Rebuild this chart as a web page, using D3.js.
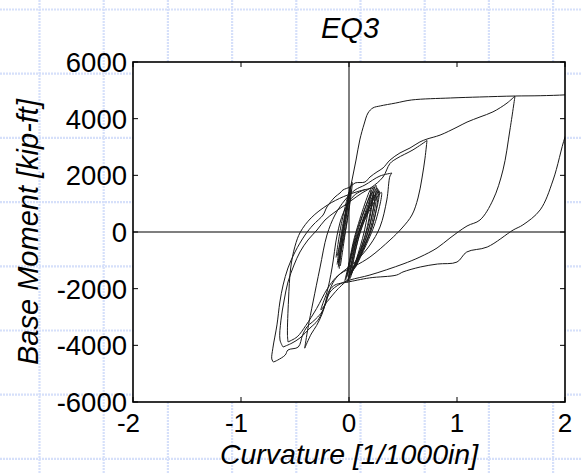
<!DOCTYPE html>
<html>
<head>
<meta charset="utf-8">
<script src="https://cdn.jsdelivr.net/npm/d3@7"></script>
<style>
body{margin:0;background:#fff;}
text{font-family:"Liberation Sans",Arial,sans-serif;fill:#000;}
</style>
</head>
<body>
<div id="svgContainer"></div>
<script>
var svgWidth = 581, svgHeight = 473;
var margin = {top:62,left:133,right:16,bottom:71};

// axis ticks
var xTicks = [-2,-1,0,1,2];
var yTicks = [-6000,-4000,-2000,0,2000,4000,6000];
var titleText = "EQ3";
var xLabel = "Curvature [1/1000in]";
var yLabel = "Base Moment [kip-ft]";

// [curvature, moment], branch by branch
// small elastic cycles right of the axis
var cycleA = [[-0.02,-1550],[0.05,-200],[0.20,1500],[0.14,0],[0.01,-1650]];
var cycleB = [[-0.03,-1700],[0.07,-100],[0.23,1600],[0.17,100],[0.02,-1500]];
var cycleC = [[0.0,-1600],[0.09,-50],[0.26,1560],[0.19,0],[0.03,-1400]];
var cycleD = [[-0.01,-1450],[0.10,100],[0.28,1450],[0.21,150],[0.04,-1350]];
var cycleE = [[0.02,-1500],[0.12,200],[0.30,1400],[0.24,300],[0.06,-1250]];
var cycleF = [[-0.04,-1750],[0.06,-300],[0.24,1300],[0.16,-200],[-0.02,-1800]];
var cycleG = [[-0.01,-1700],[0.08,-150],[0.25,1650],[0.18,50],[0.0,-1550]];
var cycleH = [[0.01,-1450],[0.11,50],[0.27,1500],[0.22,250],[0.05,-1300]];
var cycleI = [[-0.02,-1600],[0.07,0],[0.22,1420],[0.15,-100],[-0.01,-1700]];
// steep cycles left of the axis
var steepA = [[-0.11,-1150],[-0.06,200],[0.03,1750],[-0.02,300],[-0.10,-1100]];
var steepB = [[-0.09,-1300],[-0.05,0],[0.02,1500],[-0.03,100],[-0.08,-1200]];
var steepC = [[-0.12,-900],[-0.07,300],[0.0,1400],[-0.05,200],[-0.11,-850]];
var steepD = [[-0.10,-1250],[-0.055,100],[0.01,1600],[-0.035,250],[-0.095,-1150]];

// first large excursion past 2, back down to the -0.7 peak
var bigRun = [[-0.10,-1060],[-0.056,70],[-0.01,1130],[0.028,1835],[0.065,2540],[0.10,3250],[0.14,3810],
  [0.176,4200],[0.222,4380],[0.29,4450],[0.43,4550],[0.58,4660],[0.94,4730],[1.21,4765],[1.54,4800],
  [1.77,4810],[2.0,4840],[2.09,4870],[2.10,4600],[2.06,3900],[2.0,3350],[1.89,1835],[1.77,780],
  [1.61,250],[1.52,70],[1.28,-530],[1.09,-706],[1.0,-1060],[0.82,-1130],[0.66,-1235],[0.50,-1410],
  [0.44,-1520],[0.19,-1620],[-0.01,-1765],[-0.065,-1800],[-0.13,-1870],[-0.18,-2050],[-0.20,-2220],
  [-0.24,-2750],[-0.29,-3000],[-0.34,-3180],[-0.39,-3350],[-0.43,-3640],[-0.47,-4060],[-0.565,-4165],
  [-0.59,-4340],[-0.66,-4520],[-0.70,-4590]];
// reload from -0.7 up to the 1.54 peak
var reload1 = [[-0.70,-4590],[-0.715,-4480],[-0.705,-4100],[-0.667,-3280],[-0.64,-2470],[-0.61,-1870],
  [-0.565,-1270],[-0.50,-706],[-0.407,-106],[-0.333,247],[-0.24,600],[-0.204,883],[-0.13,1235],
  [-0.083,1377],[-0.056,1483],[0.009,1590],[0.056,1730],[0.148,1765],[0.194,1940],[0.259,2120],
  [0.315,2260],[0.38,2540],[0.472,2790],[0.565,2965],[0.657,3180],[0.722,3280],[0.843,3420],
  [1.0,3700],[1.093,3880],[1.213,4060],[1.333,4240],[1.463,4550],[1.537,4800]];
// unload from 1.54 to -0.61
var unload1 = [[1.537,4800],[1.49,3600],[1.426,2190],[1.333,1130],[1.213,424],[1.093,212],[0.935,-212],
  [0.815,-565],[0.657,-883],[0.5,-1130],[0.194,-1518],[0.009,-1694],[-0.083,-1835],[-0.176,-2120],
  [-0.222,-2580],[-0.287,-3110],[-0.361,-3390],[-0.454,-3740],[-0.528,-3920],[-0.611,-4060]];
// reload from -0.61 to the 0.72 peak
var reload2 = [[-0.611,-4060],[-0.639,-3810],[-0.63,-3110],[-0.60,-2400],[-0.565,-1765],[-0.509,-1165],
  [-0.454,-706],[-0.38,-282],[-0.296,71],[-0.222,424],[-0.13,706],[-0.037,953],[0.028,1130],
  [0.12,1377],[0.213,1588],[0.315,1940],[0.38,2420],[0.444,2600],[0.593,2900],[0.722,3230]];
// unload from 0.72 to -0.41
var unload2 = [[0.722,3230],[0.704,2610],[0.676,1906],[0.639,1200],[0.583,600],[0.491,141],[0.38,-282],
  [0.194,-883],[0.056,-1200],[-0.083,-1483],[-0.15,-1800],[-0.20,-2300],[-0.25,-2900],[-0.30,-3300],
  [-0.35,-3600],[-0.41,-4100]];
// reload from -0.41 to the 0.4 peak
var reload3 = [[-0.41,-4100],[-0.38,-3390],[-0.333,-2470],[-0.269,-1270],[-0.204,-106],[-0.13,600],
  [-0.037,1130],[0.056,1483],[0.148,1660],[0.287,1977],[0.398,2080]];
// unload from 0.4 to -0.57
var unload3 = [[0.398,2080],[0.38,1980],[0.35,1130],[0.287,177],[0.194,-460],[0.074,-990],[-0.037,-1340],
  [-0.12,-1600],[-0.20,-2000],[-0.30,-2700],[-0.40,-3300],[-0.48,-3700],[-0.565,-3880]];
// reload from -0.57
var reload4 = [[-0.565,-3880],[-0.57,-3600],[-0.56,-2400],[-0.54,-1270],[-0.50,-500],[-0.45,0],
  [-0.35,500],[-0.2,950],[-0.05,1250],[0.1,1450],[0.22,1550]];
// small negative cycle
var negCycle = [[0.0,-1650],[-0.1,-2000],[-0.2,-2450],[-0.26,-2750],[-0.24,-2500],[-0.204,-2120],
  [-0.157,-1270],[-0.11,-106],[-0.05,700],[0.05,1300],[0.15,1500]];

var branches = [cycleA,cycleB,cycleC,cycleD,cycleE,cycleF,cycleG,cycleH,cycleI,
  steepA,steepB,steepC,steepD,
  bigRun,reload1,unload1,reload2,unload2,reload3,unload3,reload4,negCycle];

var svg = d3.select("#svgContainer").append("svg")
    .attr("width",svgWidth)
    .attr("height",svgHeight);

// slide background grid
var bg = svg.append("g").attr("id","bg");
d3.range(39.5, svgWidth, 64.2).forEach(function(gx){
  bg.append("line").attr("x1",gx).attr("x2",gx).attr("y1",0).attr("y2",svgHeight)
    .attr("stroke","#d6e0fa").attr("stroke-width",2.2).attr("stroke-dasharray","2,1");
});
d3.range(9.5, svgHeight, 64.2).forEach(function(gy){
  bg.append("line").attr("y1",gy).attr("y2",gy).attr("x1",0).attr("x2",svgWidth)
    .attr("stroke","#d6e0fa").attr("stroke-width",2.2).attr("stroke-dasharray","2,1");
});

var x = d3.scaleLinear().domain([-2,2]).range([margin.left, svgWidth - margin.right]);
var y = d3.scaleLinear().domain([-6000,6000]).range([svgHeight - margin.bottom, margin.top]);

svg.append("rect")
  .attr("x",x(-2)).attr("y",y(6000))
  .attr("width",x(2)-x(-2)).attr("height",y(-6000)-y(6000))
  .attr("fill","#fff");

svg.append("clipPath").attr("id","clip").append("rect")
  .attr("x",x(-2)).attr("y",y(6000))
  .attr("width",x(2)-x(-2)).attr("height",y(-6000)-y(6000));

// zero lines
svg.append("line").attr("x1",x(-2)).attr("x2",x(2)).attr("y1",y(0)).attr("y2",y(0))
  .attr("stroke","#555").attr("stroke-width",1.6);
svg.append("line").attr("x1",x(0)).attr("x2",x(0)).attr("y1",y(-6000)).attr("y2",y(6000))
  .attr("stroke","#000").attr("stroke-width",1);

var line = d3.line()
  .x(function(d){return x(d[0]);})
  .y(function(d){return y(d[1]);})
  .curve(d3.curveCatmullRom.alpha(0.5));

svg.append("g").attr("clip-path","url(#clip)")
  .selectAll("path").data(branches).enter().append("path")
  .attr("d",line)
  .attr("fill","none")
  .attr("stroke","#1a1a1a")
  .attr("stroke-width",1);

// frame and inward ticks on all four sides
var frame = svg.append("g");
frame.append("rect")
  .attr("x",x(-2)).attr("y",y(6000))
  .attr("width",x(2)-x(-2)).attr("height",y(-6000)-y(6000))
  .attr("fill","none").attr("stroke","#000").attr("stroke-width",1.6);
var tl = 5;
xTicks.forEach(function(t){
  frame.append("line").attr("x1",x(t)).attr("x2",x(t)).attr("y1",y(-6000)).attr("y2",y(-6000)-tl).attr("stroke","#000");
  frame.append("line").attr("x1",x(t)).attr("x2",x(t)).attr("y1",y(6000)).attr("y2",y(6000)+tl).attr("stroke","#000");
});
yTicks.forEach(function(t){
  frame.append("line").attr("x1",x(-2)).attr("x2",x(-2)+tl).attr("y1",y(t)).attr("y2",y(t)).attr("stroke","#000");
  frame.append("line").attr("x1",x(2)).attr("x2",x(2)-tl).attr("y1",y(t)).attr("y2",y(t)).attr("stroke","#000");
});

// tick labels
svg.append("g").selectAll("text").data(xTicks).enter().append("text")
  .attr("x",function(d){ return x(d) - (d < 0 ? 4.5 : 0); })
  .attr("y",432)
  .attr("text-anchor","middle")
  .attr("font-size",26)
  .text(function(d){ return d; });

svg.append("g").selectAll("text").data(yTicks).enter().append("text")
  .attr("x",x(-2)-6)
  .attr("y",function(d){ return y(d) + 10; })
  .attr("text-anchor","end")
  .attr("font-size",27.5)
  .text(function(d){ return d; });

// title and axis labels
svg.append("text")
  .attr("x",350).attr("y",38)
  .attr("text-anchor","middle")
  .attr("font-size",29)
  .attr("font-style","italic")
  .text(titleText);

svg.append("text")
  .attr("x",(x(-2)+x(2))/2).attr("y",464)
  .attr("text-anchor","middle")
  .attr("font-size",28.5)
  .attr("font-style","italic")
  .text(xLabel);

svg.append("text")
  .attr("transform","translate(38,"+((y(-6000)+y(6000))/2)+") rotate(-90)")
  .attr("text-anchor","middle")
  .attr("font-size",29)
  .attr("font-style","italic")
  .text(yLabel);
</script>
</body>
</html>
